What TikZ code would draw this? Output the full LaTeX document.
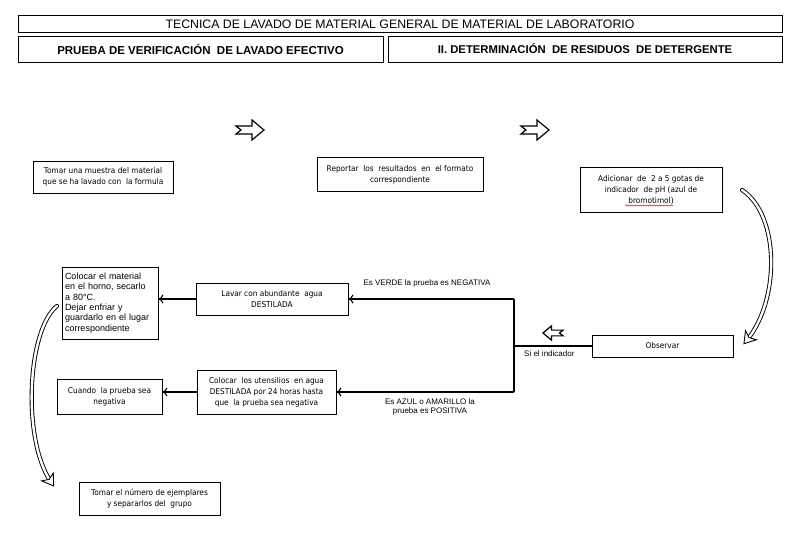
\documentclass[tikz,border=0pt]{standalone}
\usepackage{fontspec}
\setmainfont{Liberation Sans}
\newfontfamily\boxfont[FakeStretch=0.92]{DejaVu Sans}
\usetikzlibrary{arrows.meta,decorations.markings,decorations.pathmorphing}

\tikzset{
  hdr/.style={draw, line width=0.8pt, inner sep=0pt},
  box/.style={draw, line width=0.8pt, align=center, inner sep=2pt,
    font=\boxfont\fontsize{8}{11}\selectfont},
  lbl/.style={align=center, inner sep=1pt, font=\fontsize{8}{9}\selectfont},
  flow/.style={line width=1.1pt, -{To[length=5pt,width=9pt]}},
  spell/.style={red, line width=0.5pt, decorate, decoration={snake, amplitude=0.6pt, segment length=2.4pt}},
  curvy/.style={preaction={draw, line cap=round, line width=0.9pt, double=white, double distance=2.4pt},
    postaction={decorate}, decoration={markings, mark=at position 0.999 with
    {\draw[line width=0.9pt, fill=white, line join=miter] (5,0) -- (-6,7) -- (-3,0) -- (-6,-7) -- cycle;}}},
  notch/.pic={\draw[line width=1.2pt, fill=white, line join=miter]
    (-14,-4) -- (2,-4) -- (2,-10) -- (14,0) -- (2,10) -- (2,4) -- (-14,4) -- (-9,0) -- cycle;}
}

\begin{document}
\begin{tikzpicture}[x=1pt, y=-1pt]
\useasboundingbox (0,0) rectangle (800,536);
% headers
\node[hdr, minimum width=764pt, minimum height=17pt, font=\fontsize{12.3}{13}\selectfont] (title) at (400,24) {TECNICA DE LAVADO DE MATERIAL GENERAL DE MATERIAL DE LABORATORIO};
\node[hdr, minimum width=365pt, minimum height=26pt, font=\bfseries\fontsize{11.5}{12}\selectfont] (sec1) at (200.5,49) {PRUEBA DE VERIFICACIÓN \ DE LAVADO EFECTIVO};
\node[hdr, minimum width=394pt, minimum height=26pt, font=\bfseries\fontsize{11.3}{12}\selectfont] (sec2) at (585,49) {II. DETERMINACIÓN \ DE RESIDUOS \ DE DETERGENTE};
% top row
\node[box, minimum width=140pt, minimum height=32pt] (muestra) at (103,177) {Tomar una muestra del material\\que se ha lavado con \ la formula};
\node[box, minimum width=166pt, minimum height=34pt, anchor=north] (reporte) at (400,157) {Reportar \ los \ resultados \ en \ el formato\\correspondiente};
\node[box, minimum width=142pt, minimum height=45pt] (indicador) at (651,189.5) {Adicionar \ de \ 2 a 5 gotas de\\indicador \ de pH (azul de\\bromotimol)};
\draw[spell] ([shift={(-26,16)}]indicador.center) -- ++(48,0);
\path (250,130) pic {notch};
\path (535,130) pic {notch};
% middle
\node[box, minimum width=96pt, minimum height=72pt, text width=90pt, align=left, inner sep=3pt,
  font=\fontsize{9}{10.4}\selectfont] (horno) at (110,303) {Colocar el material\\en el horno, secarlo\\a 80°C.\\Dejar enfriar y\\guardarlo en el lugar\\correspondiente};
\node[box, minimum width=152pt, minimum height=32pt] (lavar) at (272,299) {Lavar con abundante \ agua\\DESTILADA};
\node[box, minimum width=141pt, minimum height=22pt] (observar) at (662.5,346) {Observar};
\coordinate (jn) at (514,346);
% bottom
\node[box, minimum width=105pt, minimum height=35pt] (cuando) at (109.5,396.5) {Cuando \ la prueba sea\\negativa};
\node[box, minimum width=139pt, minimum height=44pt] (utensilios) at (266.5,392) {Colocar \ los utensilios \ en agua\\DESTILADA por 24 horas hasta\\que \ la prueba sea negativa};
\node[box, minimum width=141pt, minimum height=33pt] (ejemplares) at (149.5,498.5) {Tomar el número de ejemplares\\y separarlos del \ grupo};
% labels
\node[lbl] (verde) at (427,283) {Es VERDE la prueba es NEGATIVA};
\node[lbl, below right=1pt] (si) at (522,348) {Si el indicador};
\node[lbl, anchor=north] (azul) at (430,397) {Es AZUL o AMARILLO la\\prueba es POSITIVA};
\path (553,333) pic[rotate=180, scale=0.72] {notch};
% connectors
\draw[line width=1.1pt] (observar.west) -- (jn);
\draw[line width=1.1pt] (jn |- lavar.east) -- (jn |- utensilios.east);
\draw[flow] (jn |- lavar.east) -- (lavar.east);
\draw[flow] (jn |- utensilios.east) -- (utensilios.east);
\draw[flow] (lavar.west) -- (lavar.west -| horno.east);
\draw[flow] (utensilios.west) -- (utensilios.west -| cuando.east);
% curved arrows
\coordinate (r0) at (742,190);
\coordinate (r1) at (747,340);
\coordinate (l0) at (57,306);
\coordinate (l1) at (51,482);
\path[curvy] (r0) .. controls (780,215) and (780,300) .. (r1);
\path[curvy] (l0) .. controls (27,330) and (22,440) .. (l1);
\end{tikzpicture}
\end{document}
